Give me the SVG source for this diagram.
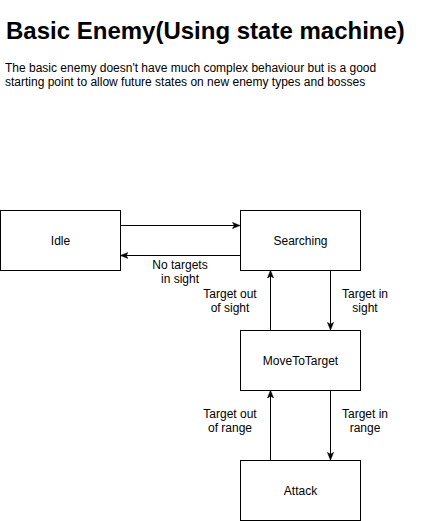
<svg xmlns="http://www.w3.org/2000/svg" width="421" height="521" viewBox="0 0 421 521">
<style>
.box{fill:#fff;stroke:#000;stroke-width:1}
.n{font-family:"Liberation Sans",Arial,sans-serif;font-size:12px;fill:#000;text-anchor:middle}
.e{font-family:"Liberation Sans",Arial,sans-serif;font-size:12px;fill:#000;text-anchor:middle}
.c{fill:none;stroke:#000;stroke-width:1}
</style>
<defs>
<marker id="a" viewBox="0 0 10 10" refX="9" refY="5" markerWidth="8" markerHeight="8" markerUnits="userSpaceOnUse" orient="auto">
<path d="M0,1 L10,5 L0,9 L2.5,5 Z" fill="#000" stroke="#000" stroke-width="0.5"/>
</marker>
</defs>
<rect width="421" height="521" fill="#fff"/>
<text x="6" y="39" font-family="Liberation Sans,Arial,sans-serif" font-size="24" font-weight="bold">Basic Enemy(Using state machine)</text>
<text x="5" y="72" font-family="Liberation Sans,Arial,sans-serif" font-size="12">The basic enemy doesn't have much complex behaviour but is a good</text>
<text x="5" y="85.5" font-family="Liberation Sans,Arial,sans-serif" font-size="12">starting point to allow future states on new enemy types and bosses</text>
<g id="connectors">
<path class="c" d="M120.5,225.5 L239.5,225.5" marker-end="url(#a)"/>
<path class="c" d="M240.5,255.5 L121,255.5" marker-end="url(#a)"/>
<path class="c" d="M330.5,270.5 L330.5,329.5" marker-end="url(#a)"/>
<path class="c" d="M270.5,330.5 L270.5,271" marker-end="url(#a)"/>
<path class="c" d="M330.5,390.5 L330.5,459.5" marker-end="url(#a)"/>
<path class="c" d="M270.5,460.5 L270.5,391" marker-end="url(#a)"/>
<text class="e" x="180" y="269">No targets</text>
<text class="e" x="180" y="283">in sight</text>
<text class="e" x="230" y="298">Target out</text>
<text class="e" x="230" y="312">of sight</text>
<text class="e" x="365" y="298">Target in</text>
<text class="e" x="365" y="312">sight</text>
<text class="e" x="230" y="418">Target out</text>
<text class="e" x="230" y="432">of range</text>
<text class="e" x="365" y="418">Target in</text>
<text class="e" x="365" y="432">range</text>
</g>
<g id="idle"><rect class="box" x="0.5" y="210.5" width="120" height="60"/><text class="n" x="60.5" y="245">Idle</text></g>
<g id="searching"><rect class="box" x="240.5" y="210.5" width="120" height="60"/><text class="n" x="300.5" y="245">Searching</text></g>
<g id="movetotarget"><rect class="box" x="240.5" y="330.5" width="120" height="60"/><text class="n" x="300.5" y="365">MoveToTarget</text></g>
<g id="attack"><rect class="box" x="240.5" y="460.5" width="120" height="60"/><text class="n" x="300.5" y="495">Attack</text></g>
</svg>
